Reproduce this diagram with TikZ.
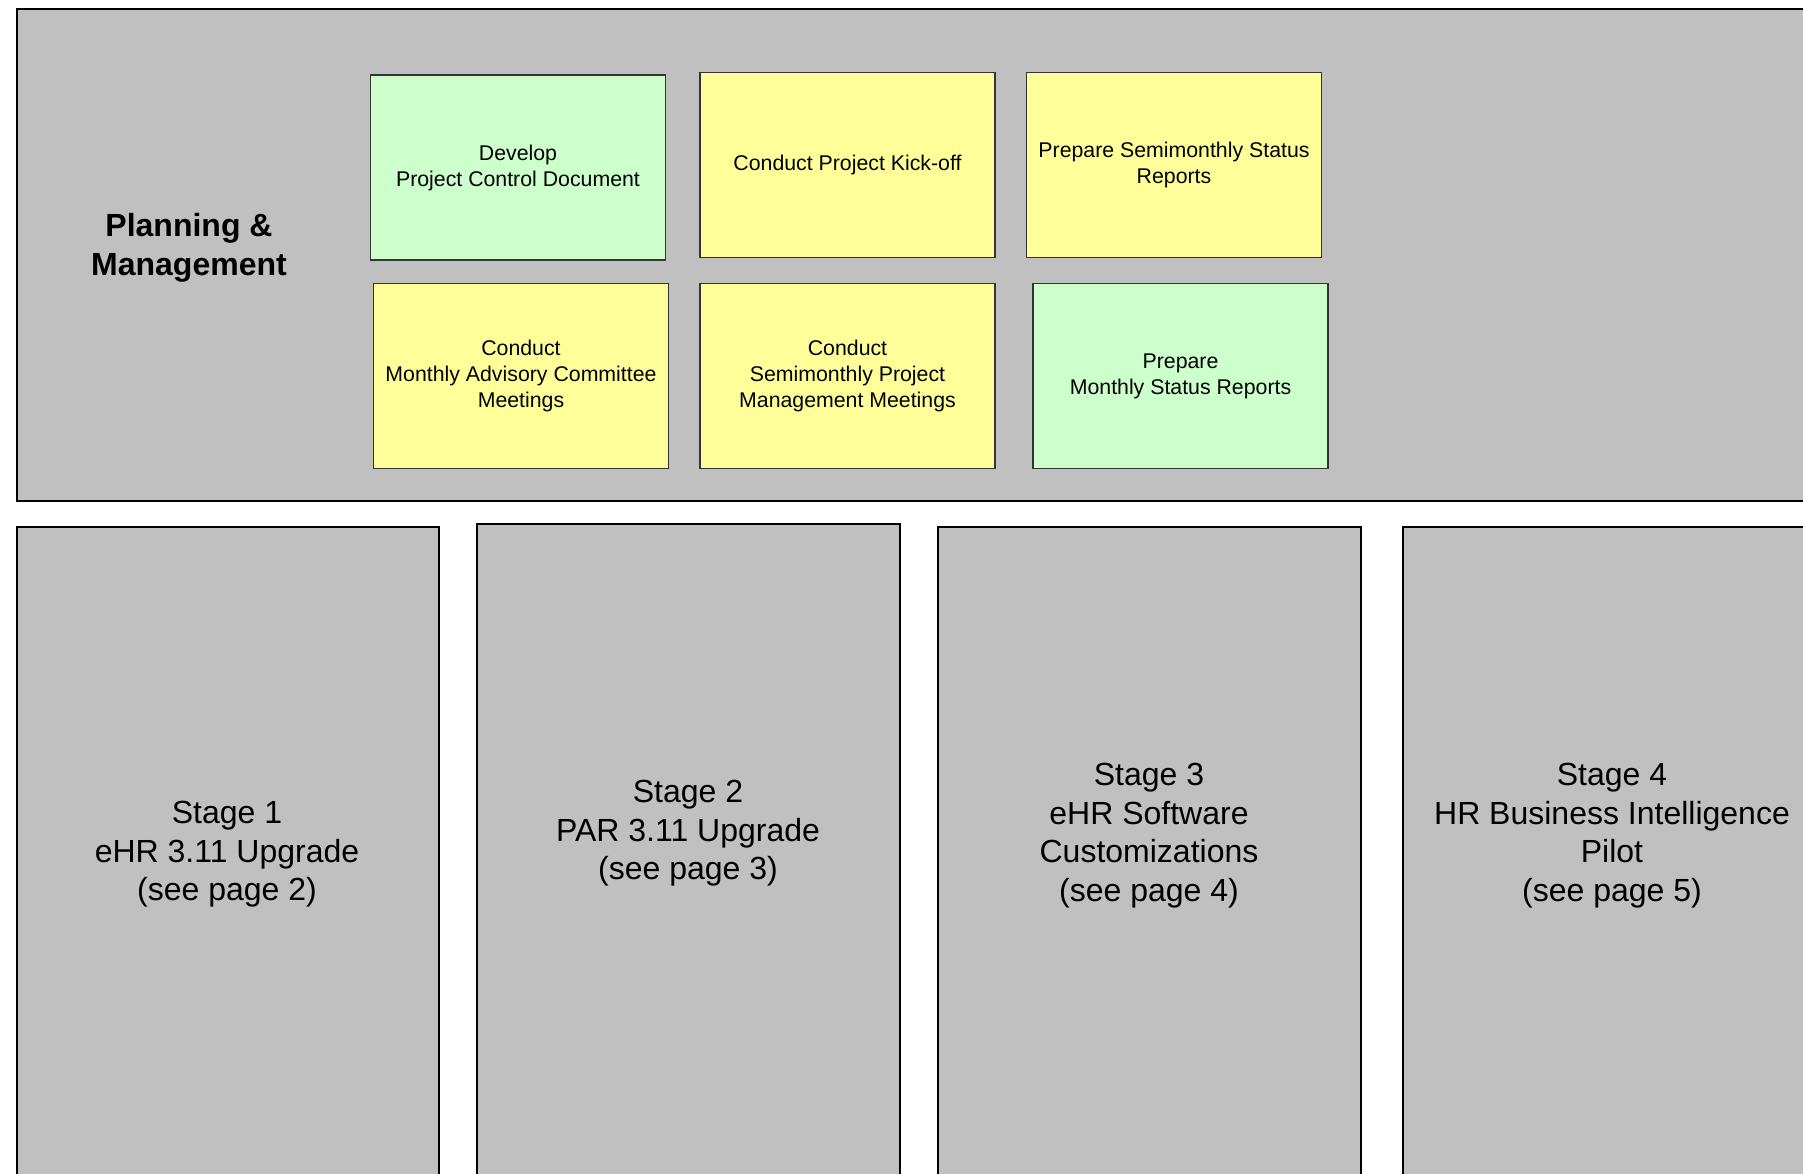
\documentclass[tikz,border=0pt]{standalone}
\usepackage{fontspec}
\setmainfont{Liberation Sans}
\definecolor{panelgray}{HTML}{C0C0C0}
\definecolor{taskgreen}{HTML}{CCFFCC}
\definecolor{taskyellow}{HTML}{FFFF99}
\tikzset{
  panel/.style={draw=black, line width=2pt, fill=panelgray, inner sep=0pt},
  task/.style={draw=black!80, line width=1.2pt, inner sep=4pt, align=center,
    minimum width=295pt, minimum height=185pt,
    font=\fontsize{21.3}{26}\selectfont},
  donetask/.style={task, fill=taskgreen},
  opentask/.style={task, fill=taskyellow},
  stagetext/.style={align=center, font=\fontsize{32}{38.5}\selectfont},
  headtext/.style={align=center, font=\bfseries\fontsize{32}{39}\selectfont}
}
\begin{document}
\begin{tikzpicture}[x=1pt,y=-1pt]
\useasboundingbox (0,0) rectangle (1803,1174);
\clip (0,0) rectangle (1803,1174);
\fill[white] (0,0) rectangle (1803,1174);

% Planning & Management band
\node[panel, anchor=north west, minimum width=1820pt, minimum height=492pt] (pm) at (16,8) {};
\node[headtext] (pmlabel) at (189,247.5) {Planning \&\\Management};

\node[donetask] (pcd)  at (518,167.5) {Develop\\Project Control Document};
\node[opentask] (kick) at (847.5,165) {Conduct Project Kick-off};
\node[opentask] (semi) at (1174,165)  {Prepare Semimonthly Status\\Reports};
\node[opentask] (adv)  at (521,376)   {Conduct\\Monthly Advisory Committee\\Meetings};
\node[opentask] (pmm)  at (847.5,376) {Conduct\\Semimonthly Project\\Management Meetings};
\node[donetask] (msr)  at (1180.5,376) {Prepare\\Monthly Status Reports};

% Stage columns
\node[panel, anchor=north west, minimum width=422pt, minimum height=700pt] (s1) at (16,526) {};
\node[panel, anchor=north west, minimum width=423pt, minimum height=700pt] (s2) at (476,523) {};
\node[panel, anchor=north west, minimum width=423pt, minimum height=700pt] (s3) at (937,526) {};
\node[panel, anchor=north west, minimum width=480pt, minimum height=700pt] (s4) at (1402,526) {};

\node[stagetext] (s1t) at (227,854.5)  {Stage 1\\eHR 3.11 Upgrade\\(see page 2)};
\node[stagetext] (s2t) at (688,833.5)  {Stage 2\\PAR 3.11 Upgrade\\(see page 3)};
\node[stagetext] (s3t) at (1149,835.5) {Stage 3\\eHR Software\\Customizations\\(see page 4)};
\node[stagetext] (s4t) at (1612,835.5) {Stage 4\\HR Business Intelligence\\Pilot\\(see page 5)};
\end{tikzpicture}
\end{document}
